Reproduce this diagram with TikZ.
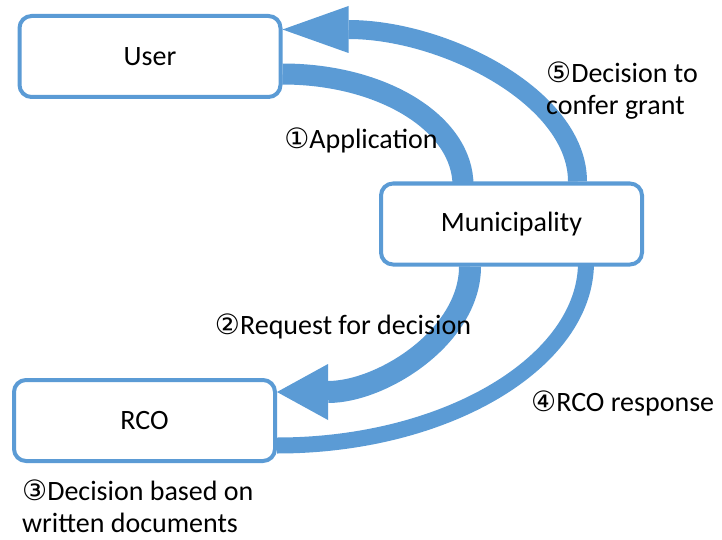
\documentclass[tikz,border=0pt]{standalone}
\usepackage{fontspec}
\setmainfont{Carlito}
\newfontfamily\circfont{DejaVu Sans}
\usepackage{tikz}
\usetikzlibrary{arrows.meta,backgrounds}
\definecolor{flowblue}{RGB}{91,155,213}
\newcommand{\cnum}[1]{{\circfont #1}}

\begin{document}
\begin{tikzpicture}[x=1pt,y=-1pt,
    box/.style={draw=flowblue, line width=4pt, rounded corners=12pt, fill=white,
      minimum width=261pt, minimum height=81pt},
    band/.style={draw=flowblue},
    lbl/.style={align=left, inner sep=0pt},
    font=\fontsize{28}{32}\selectfont]
  \useasboundingbox (0,0) rectangle (722,540);

  \node[box] (user) at (150,56.5) {User};
  \node[box] (muni) at (511.5,224) {Municipality};
  \node[box] (rco) at (144.5,420.5) {RCO};

  \begin{scope}[on background layer]
    % application
    \draw[band, line width=21pt] ([yshift=-17.5pt]user.east)
      .. controls +(100,0) and +(0,-62) .. ([xshift=-48.5pt,yshift=-4pt]muni.north);
    % request for decision
    \draw[band, line width=22pt, -{Triangle[length=51pt,width=56pt,line width=0pt]}]
      ([xshift=-41.5pt]muni.south)
      .. controls +(0,70) and +(105,0) .. ([yshift=28.5pt]rco.east);
    % rco response
    \draw[band, line width=16pt] ([yshift=-25pt]rco.east)
      .. controls +(170,0) and +(0,99) .. ([xshift=74.5pt,yshift=4pt]muni.south);
    % decision to confer grant
    \draw[band, line width=19pt, -{Triangle[length=66pt,width=47pt,line width=0pt]}]
      ([xshift=66pt]muni.north)
      .. controls +(0,-84) and +(162,0) .. ([yshift=27pt]user.east);
  \end{scope}

  \node[lbl] (app) at (361,140) {\cnum{①}Application};
  \node[lbl] (req) at (343,326) {\cnum{②}Request for decision};
  \node[lbl, anchor=west] (dec) at (22,506) {\cnum{③}Decision based on\\written documents};
  \node[lbl, anchor=west] (resp) at (531,403) {\cnum{④}RCO response};
  \node[lbl, anchor=west] (grant) at (546,91) {\cnum{⑤}Decision to\\confer grant};
\end{tikzpicture}
\end{document}
